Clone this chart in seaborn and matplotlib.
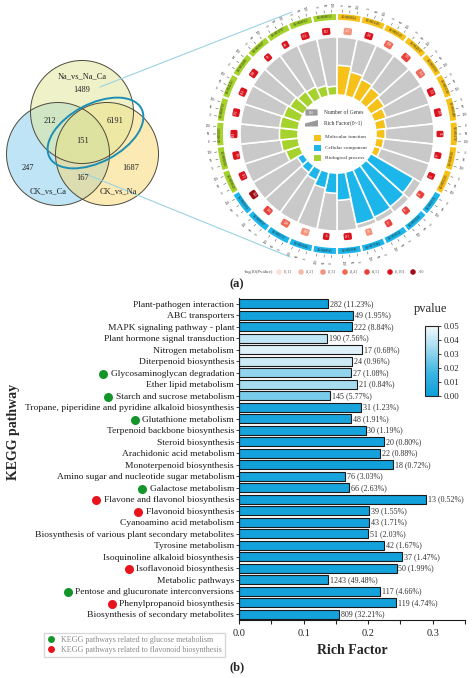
import numpy as np
import pandas as pd
import matplotlib
matplotlib.use("Agg")
import matplotlib.pyplot as plt
import seaborn as sns
from matplotlib.colors import LinearSegmentedColormap, Normalize
from matplotlib.cm import ScalarMappable
from matplotlib.patches import Circle, Ellipse, FancyBboxPatch, Polygon, Rectangle
from matplotlib.lines import Line2D
from matplotlib.ticker import MultipleLocator

# ---------------- data ----------------
# Venn (a, left)
venn_sets = ["Na_vs_Na_Ca", "CK_vs_Ca", "CK_vs_Na"]
# top only, left only, right only, top&left, top&right, left&right, all three
venn_counts = [1489, 247, 1687, 212, 6191, 167, 151]

# GO circle (a, right): 10 MF, 10 CC, 10 BP terms, clockwise from 12 o'clock
go_class = ["Molecular function"] * 10 + ["Cellular component"] * 10 + ["Biological process"] * 10
go_ids = ["GO:0003824", "GO:0016491", "GO:0005515", "GO:0043167", "GO:0003700",
          "GO:0016740", "GO:0005488", "GO:0016787", "GO:0140110", "GO:0005215",
          "GO:0005576", "GO:0005618", "GO:0030312", "GO:0071944", "GO:0005886",
          "GO:0009505", "GO:0016020", "GO:0005737", "GO:0009507", "GO:0005634",
          "GO:0009628", "GO:0006950", "GO:0010033", "GO:0009719", "GO:0042221",
          "GO:0050896", "GO:0009607", "GO:0051707", "GO:0006952", "GO:0008152"]
go_rich = [0.51, 0.42, 0.36, 0.32, 0.27, 0.22, 0.18, 0.16, 0.14, 0.12,
           0.85, 0.88, 0.90, 0.92, 0.47, 0.35, 0.28, 0.20, 0.15, 0.12,
           0.26, 0.30, 0.32, 0.32, 0.30, 0.27, 0.24, 0.22, 0.18, 0.15]
go_genes = [412, 236, 198, 176, 154, 131, 118, 96, 84, 72,
            64, 58, 57, 55, 211, 36, 402, 298, 160, 142,
            121, 305, 188, 176, 214, 398, 93, 88, 131, 612]
go_level = [2, 5, 3, 4, 3, 5, 5, 5, 5, 5,
            4, 4, 4, 2, 5, 5, 2, 3, 4, 6,
            5, 5, 5, 5, 5, 5, 5, 5, 5, 5]
level_labels = ["(0,1]", "(1,2]", "(2,3]", "(3,4]", "(4,5]", "(5,10]", ">10"]

# KEGG enrichment (b)
pathways = ["Plant-pathogen interaction", "ABC transporters", "MAPK signaling pathway - plant",
            "Plant hormone signal transduction", "Nitrogen metabolism", "Diterpenoid biosynthesis",
            "Glycosaminoglycan degradation", "Ether lipid metabolism", "Starch and sucrose metabolism",
            "Tropane, piperidine and pyridine alkaloid biosynthesis", "Glutathione metabolism",
            "Terpenoid backbone biosynthesis", "Steroid biosynthesis", "Arachidonic acid metabolism",
            "Monoterpenoid biosynthesis", "Amino sugar and nucleotide sugar metabolism",
            "Galactose metabolism", "Flavone and flavonol biosynthesis", "Flavonoid biosynthesis",
            "Cyanoamino acid metabolism", "Biosynthesis of various plant secondary metabolites",
            "Tyrosine metabolism", "Isoquinoline alkaloid biosynthesis", "Isoflavonoid biosynthesis",
            "Metabolic pathways", "Pentose and glucuronate interconversions",
            "Phenylpropanoid biosynthesis", "Biosynthesis of secondary metabolites"]
rich_factor = [0.138, 0.177, 0.175, 0.137, 0.190, 0.175, 0.173, 0.183, 0.141, 0.189,
               0.174, 0.196, 0.224, 0.219, 0.239, 0.164, 0.170, 0.289, 0.201, 0.201,
               0.200, 0.224, 0.253, 0.244, 0.138, 0.219, 0.243, 0.155]
gene_num = [282, 49, 222, 190, 17, 24, 27, 21, 145, 31, 48, 30, 20, 22, 18, 76, 66, 13,
            39, 43, 51, 42, 37, 50, 1243, 117, 119, 809]
gene_pct = [11.23, 1.95, 8.84, 7.56, 0.68, 0.96, 1.08, 0.84, 5.77, 1.23, 1.91, 1.19, 0.80,
            0.88, 0.72, 3.03, 2.63, 0.52, 1.55, 1.71, 2.03, 1.67, 1.47, 1.99, 49.48, 4.66,
            4.74, 32.21]
pvalue = [0.001, 0.002, 0.003, 0.040, 0.046, 0.042, 0.031, 0.035, 0.027, 0.004,
          0.004, 0.003, 0.002, 0.002, 0.001, 0.003, 0.003, 0.001, 0.002, 0.002,
          0.002, 0.002, 0.001, 0.002, 0.003, 0.002, 0.001, 0.002]
glucose_related = ["Glycosaminoglycan degradation", "Starch and sucrose metabolism",
                   "Glutathione metabolism", "Galactose metabolism",
                   "Pentose and glucuronate interconversions"]
flavonoid_related = ["Flavone and flavonol biosynthesis", "Flavonoid biosynthesis",
                     "Isoflavonoid biosynthesis", "Phenylpropanoid biosynthesis"]

# ---------------- style ----------------
sns.set_style("ticks")
plt.rcParams["font.family"] = ["Liberation Serif", "DejaVu Serif"]

W, H = 474, 678
fig = plt.figure(figsize=(W / 100, H / 100), dpi=100)


def px_rect(x0, y0, x1, y1):
    # pixel box (top-left origin) -> figure fraction rect
    return [x0 / W, 1 - y1 / H, (x1 - x0) / W, (y1 - y0) / H]


class_colors = {"Molecular function": "#f6c21a", "Cellular component": "#1db6ea",
                "Biological process": "#a5d22c"}
level_colors = ["#fbe1d6", "#f8bba4", "#f4947c", "#ee6a58", "#e8403a", "#d9141e", "#a00e16"]

# ---------------- GO circle ----------------
cx, cy = 337, 134
pax = fig.add_axes(px_rect(cx - 150, cy - 150, cx + 150, cy + 150), projection="polar")
pax.set_theta_zero_location("N")
pax.set_theta_direction(-1)
pax.set_ylim(0, 150)
pax.set_axis_off()

n = len(go_ids)
step = 360 / n
centers_deg = step / 2 + step * np.arange(n)
theta = np.deg2rad(centers_deg)
width = np.deg2rad(step)
cols = [class_colors[c] for c in go_class]

r0, r1 = 39, 97
pax.bar(theta, r1 - r0, width=width, bottom=r0, color="#c9c9c9", edgecolor="white", linewidth=1.2)
pax.bar(theta, (r1 - r0) * np.array(go_rich), width=width, bottom=r0, color=cols,
        edgecolor="white", linewidth=1.2)
pax.bar(theta, 8, width=width, bottom=113, color=cols, edgecolor="white", linewidth=1.5)


def tang_rot(d):
    r = -d
    if 90 < d < 270:
        r += 180
    return r


def rad_rot(d):
    r = 90 - d
    if 180 < d < 360:
        r += 180
    return r


for i in range(n):
    d = centers_deg[i]
    pax.text(theta[i], 117, go_ids[i], fontsize=2.2, ha="center", va="center",
             rotation=tang_rot(d), rotation_mode="anchor", color="#222222")
    pax.text(theta[i], 103, str(go_genes[i]), fontsize=2.4, ha="center", va="center",
             color="white", rotation=tang_rot(d), rotation_mode="anchor",
             bbox=dict(boxstyle="round,pad=0.45", fc=level_colors[go_level[i]], ec="none"))
    for k, lab in zip([2.5, 6, 9.5], ["0", "50", "100"]):
        t = np.deg2rad(step * i + k)
        pax.plot([t, t], [121.5, 124], color="#222222", lw=0.3)
        pax.text(t, 129, lab, fontsize=2.2, ha="center", va="center",
                 rotation=rad_rot(np.rad2deg(t)), rotation_mode="anchor", color="#222222")

# ---------------- overlay (Venn, connectors, legends) ----------------
ov = fig.add_axes([0, 0, 1, 1])
ov.set_xlim(0, W)
ov.set_ylim(H, 0)
ov.set_axis_off()

venn_centers = [(82, 112), (58, 154), (107, 154)]
venn_fill = ["#e0e794", "#7fcbee", "#fbd76c"]
for (x, y), c in zip([venn_centers[1], venn_centers[2], venn_centers[0]],
                     [venn_fill[1], venn_fill[2], venn_fill[0]]):
    ov.add_patch(Circle((x, y), 51.5, fc=c, ec="none", alpha=0.5))
for (x, y) in venn_centers:
    ov.add_patch(Circle((x, y), 51.5, fill=False, ec="#4d4a3c", lw=0.7))
ov.add_patch(Ellipse((95.5, 133), 104, 58, angle=-28, fill=False, ec="#1d8fb4", lw=1.4))
ov.plot([100, 292], [87, 12], color="#9bd2e2", lw=0.8)
ov.plot([83, 290], [173, 257], color="#9bd2e2", lw=0.8)

venn_pos = [(82, 90), (28, 168), (131, 168), (50, 121), (115, 121), (83, 178), (83, 141)]
for (x, y), v in zip(venn_pos, venn_counts):
    ov.text(x, y, str(v), fontsize=6, ha="center", va="center", color="#222222")
for (x, y), s in zip([(82, 76), (48, 191), (118, 191)], venn_sets):
    ov.text(x, y, s, fontsize=6, ha="center", va="center", color="#222222")

# center legend of the GO circle
ov.add_patch(FancyBboxPatch((306, 110), 11, 5, boxstyle="round,pad=0.6", fc="#9a9a9a", ec="none"))
ov.text(311.5, 112.5, "100", fontsize=2.3, ha="center", va="center", color="white")
ov.add_patch(Polygon([(305, 126.5), (318, 126.5), (318, 120), (305, 123.5)], closed=True,
                     fc="#9a9a9a", ec="none"))
ov.text(324, 112.5, "Number of Genes", fontsize=4, va="center", color="#333333")
ov.text(324, 123.5, "Rich Factor(0~1)", fontsize=4, va="center", color="#333333")
for j, (lab, c) in enumerate(class_colors.items()):
    y = 137.5 + 10 * j
    ov.add_patch(Rectangle((314, y - 3), 7, 6, fc=c, ec="none"))
    ov.text(325, y, lab, fontsize=3.8, va="center", color="#333333")

# -log10(P) legend under the circle
ov.text(244, 272, "-log10(Pvalue)", fontsize=3.5, va="center", color="#444444")
leg_x = [279, 301, 323, 345, 367, 390, 413]
ov.scatter(leg_x, [272] * len(leg_x), s=16, c=level_colors, edgecolors="none")
for x, lab in zip(leg_x, level_labels):
    ov.text(x + 4.5, 272, lab, fontsize=3, va="center", color="#555555")

fig.text(237 / W, 1 - 284 / H, "(a)", fontsize=9, ha="center", va="center", fontweight="bold")

# ---------------- KEGG bar chart ----------------
cmap = LinearSegmentedColormap.from_list("pv", ["#0f9fdb", "#3db6e2", "#9ed9ef", "#f3fafd"])
norm = Normalize(0, 0.05)
df = pd.DataFrame({"pathway": pathways, "rich": rich_factor, "p": pvalue})
pal = {pw: cmap(norm(p)) for pw, p in zip(pathways, pvalue)}

ax = fig.add_axes(px_rect(239, 298, 465, 620))
sns.barplot(data=df, x="rich", y="pathway", hue="pathway", palette=pal, legend=False,
            orient="h", width=0.8, saturation=1, edgecolor="#1a1a1a", linewidth=0.8, ax=ax)
for i, (rf, g, pc) in enumerate(zip(rich_factor, gene_num, gene_pct)):
    ax.text(rf + 0.003, i, f"{g} ({pc:.2f}%)", fontsize=5.8, va="center", color="#333333")

ax.set_xlim(0, 0.35)
ax.xaxis.set_major_locator(MultipleLocator(0.1))
ax.xaxis.set_minor_locator(MultipleLocator(0.05))
ax.xaxis.set_major_formatter("{x:.1f}")
ax.tick_params(axis="x", which="both", length=3, width=0.8, labelsize=7.5, direction="out")
ax.tick_params(axis="y", length=2, width=0.6, labelsize=6.8, pad=1.5, labelcolor="#1a1a1a")
sns.despine(ax=ax)
for s in ["left", "bottom"]:
    ax.spines[s].set_linewidth(0.8)
    ax.spines[s].set_color("#1a1a1a")
ax.set_ylabel("")
ax.set_xlabel("Rich Factor", fontsize=10, fontweight="bold", labelpad=4)

fig.text(14 / W, 1 - 432 / H, "KEGG pathway", rotation=90, fontsize=10, fontweight="bold",
         ha="center", va="center")

# colorbar
cax = fig.add_axes(px_rect(425, 326, 438, 396))
cb = fig.colorbar(ScalarMappable(norm=norm, cmap=cmap), cax=cax)
cb.set_ticks([0, 0.01, 0.02, 0.03, 0.04, 0.05])
cb.ax.yaxis.set_major_formatter("{x:.2f}")
cb.ax.tick_params(labelsize=6.3, length=2.5, width=0.6, pad=1.5)
cb.outline.set_linewidth(0.8)
fig.text(431 / W, 1 - 309 / H, "pvalue", fontsize=9, ha="center", va="center")

# marker dots next to selected pathway labels
fig.canvas.draw()
for lbl in ax.get_yticklabels():
    t = lbl.get_text()
    if t in glucose_related or t in flavonoid_related:
        c = "#14952a" if t in glucose_related else "#e8141c"
        bb = lbl.get_window_extent()
        xf = (bb.x0 - 7.5) / fig.bbox.width
        yf = (bb.y0 + bb.y1) / 2 / fig.bbox.height
        fig.add_artist(Line2D([xf], [yf], marker="o", ms=6.5, color=c, mec="none",
                              transform=fig.transFigure))

handles = [Line2D([], [], marker="o", ls="none", ms=5, color="#14952a", mec="none"),
           Line2D([], [], marker="o", ls="none", ms=5, color="#e8141c", mec="none")]
fig.legend(handles, ["KEGG pathways related to glucose metabolism",
                     "KEGG pathways related to flavonoid biosynthesis"],
           loc="upper left", bbox_to_anchor=(40 / W, 1 - 629 / H), fontsize=5.8,
           labelcolor="#8a8a8a", frameon=True, fancybox=False, edgecolor="#cfcfcf",
           handletextpad=0.8, borderpad=0.35, labelspacing=0.3, handlelength=1.0)

fig.text(237 / W, 1 - 667 / H, "(b)", fontsize=9, ha="center", va="center", fontweight="bold")

fig.savefig("out.png", dpi=100)
